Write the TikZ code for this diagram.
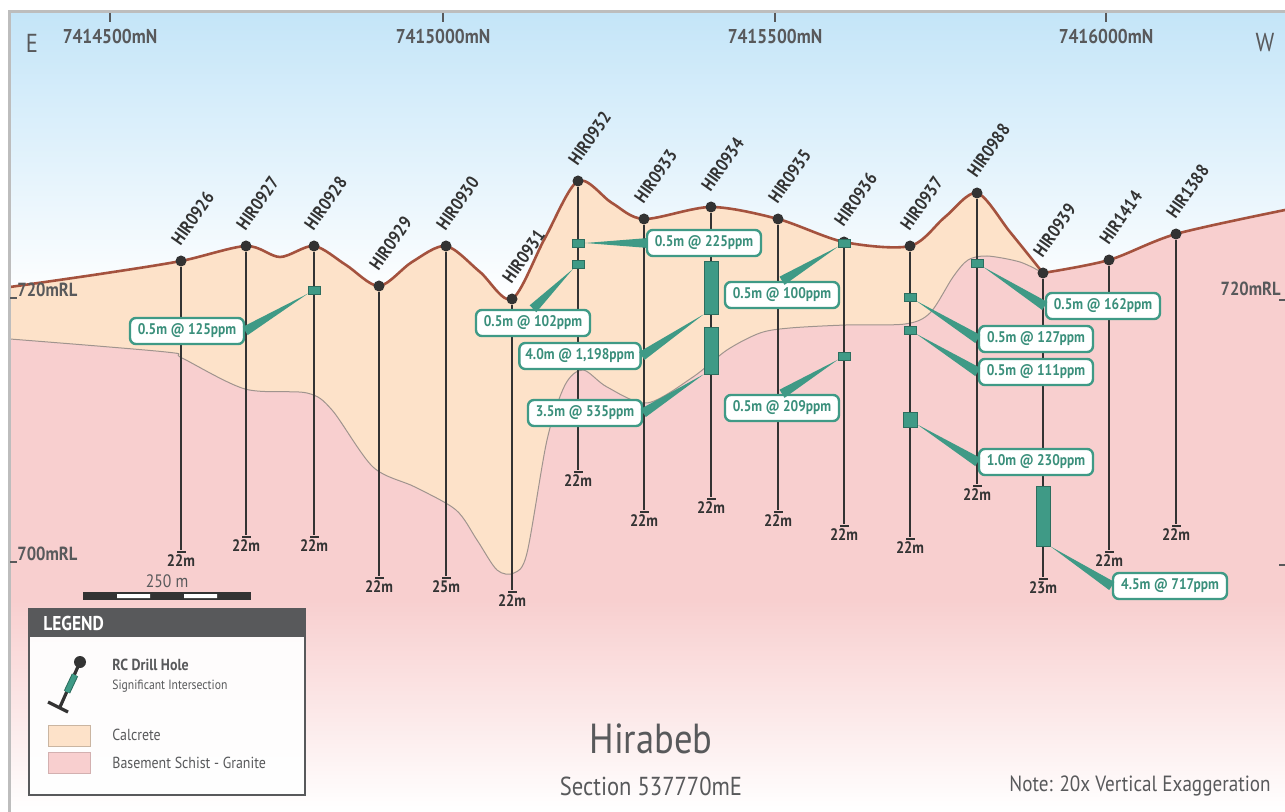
\documentclass[tikz,border=0pt]{standalone}
\usepackage{fontspec}
\setmainfont{PT Sans}[FakeStretch=0.87]
\usetikzlibrary{calc,positioning}
\definecolor{skyc}{HTML}{C4E5F8}
\definecolor{calcc}{HTML}{FDE2C9}
\definecolor{basec}{HTML}{F8CFCF}
\definecolor{surfc}{HTML}{A4523E}
\definecolor{bndc}{HTML}{A0948E}
\definecolor{tealc}{HTML}{3F9A86}
\definecolor{teald}{HTML}{2C6E5F}
\definecolor{tealt}{HTML}{3A8F7B}
\definecolor{holec}{HTML}{333333}
\definecolor{txtc}{HTML}{58595B}
\definecolor{framec}{HTML}{BDBDBD}
\def\surfL{plot[smooth,tension=0.5] coordinates {(10,287) (100,274) (181,261) (246,246) (280,257) (314,246) (346,265) (379,286) (412,262) (446,246) (480,272) (512,299) (545,238) (578,181) (612,203) (644,219) (711,207) (778,219) (844,242) (910,246) (945,217) (977,193) (1010,232) (1043,273)}}
\def\surfR{-- plot[smooth,tension=0.5] coordinates {(1043,273) (1109,260) (1176,234) (1285,210)}}
\def\bound{-- plot[smooth,tension=0.5] coordinates {(1043,273) (1020,262) (987,256) (968,260) (953,277) (930,313) (905,324) (846,325) (790,328) (760,333) (727,350) (693,377) (647,403) (607,387) (583,370) (565,385) (547,440) (527,553) (514,573) (497,570) (477,540) (456,510) (415,487) (373,467) (332,410) (307,393) (245,389) (182,358) (166,352) (10,339)}}
\def\sky{(10,13) rectangle (1285,300)}
% wedge from a tag box to an intersection, stopping #1 short of its centre
\newcommand\callptr[3][3.6pt]{\fill[tealc] ($(#2)!2.4pt!90:(#3)$) -- ($(#3)!#1!(#2)$) -- ($(#2)!2.4pt!-90:(#3)$) -- cycle;}

\begin{document}
\begin{tikzpicture}[x=0.5pt,y=-0.5pt,
  hole/.style={holec,line width=0.8pt},
  collar/.style={circle,fill=holec,minimum size=5.5pt,inner sep=0},
  foot/.style={fill=holec,minimum width=4.5pt,minimum height=1.4pt,inner sep=0},
  hit/.style={fill=tealc,draw=teald,line width=0.4pt,minimum width=6pt,minimum height=4pt,inner sep=0},
  bar/.style={hit,minimum width=7pt},
  holelab/.style={rotate=55,anchor=south west,inner sep=0,text=holec,font=\fontsize{9}{10}\selectfont\bfseries},
  depthlab/.style={inner sep=0,text=holec,font=\fontsize{8.3}{9}\selectfont\bfseries},
  tagbox/.style={draw=tealc,fill=white,line width=1.2pt,rounded corners=3pt,text=tealt,font=\fontsize{7.7}{9}\selectfont\bfseries,minimum width=57pt,minimum height=11.5pt,inner sep=3pt},
  axislab/.style={inner sep=0,text=txtc,font=\fontsize{10}{12}\selectfont\bfseries},
  rllab/.style={inner sep=0,text=txtc,font=\fontsize{9.5}{11}\selectfont\bfseries},
  legtext/.style={anchor=west,inner sep=0,text=txtc,font=\fontsize{8}{9}\selectfont}]
\useasboundingbox (0,0) rectangle (1285,812);
% sky and ground
\shade[top color=skyc,bottom color=white] \sky;
\fill[basec] \surfL \surfR -- (1285,812) -- (10,812) -- cycle;
\shade[top color=basec,bottom color=white] (10,600) rectangle (1285,812);
\fill[calcc] \surfL \bound -- cycle; % calcrete
\draw[bndc,line width=0.5pt] (1043,273) \bound;
\draw[surfc,line width=1.3pt] \surfL \surfR;
% frame
\draw[framec,line width=1.5pt] (9,812) -- (9,12) -- (1285,12);
\foreach \xx/\lab in {110/7414500mN,443/7415000mN,775/7415500mN,1106/7416000mN}{
  \draw[txtc,line width=0.6pt] (\xx,13) -- (\xx,22);
  \node[axislab] (n\xx) at (\xx,37) {\lab};
}
\node[text=txtc,font=\fontsize{13}{15}\selectfont] (E) at (32,43) {E};
\node[text=txtc,font=\fontsize{13}{15}\selectfont] (W) at (1265,43) {W};
% drill holes
\foreach \nm/\xx/\ya/\yb/\dep in {0926/181/261/552/22,0927/246/246/537/22,0928/314/246/537/22,
  0929/379/286/578/22,0930/446/246/578/25,0931/512/299/592/22,0932/578/181/472/22,
  0933/644/219/512/22,0934/711/207/499/22,0935/778/219/512/22,0936/844/242/526/22,
  0937/910/246/539/22,0988/977/193/486/22,0939/1043/273/579/23,1414/1109/260/552/22,
  1388/1176/234/526/22}{
  \node[foot] (b\nm) at (\xx,\yb) {};
  \node[collar] (h\nm) at (\xx,\ya) {};
  \draw[hole] (h\nm) -- (b\nm);
  \node[depthlab,below=0.2pt of b\nm] (d\nm) {\dep m};
  \node[holelab] (l\nm) at ($(h\nm)+(0,-14)$) {HIR\nm};
}
% intersections
\node[hit] (i928) at (314,290) {};
\node[hit] (i932a) at (578,243) {};
\node[hit] (i932b) at (578,264) {};
\node[bar,minimum height=26.5pt] (s934a) at (711,287.5) {};
\node[bar,minimum height=23.5pt] (s934b) at (711,350.5) {};
\node[hit] (i936a) at (844,243) {};
\node[hit] (i936b) at (844,356) {};
\node[hit] (i937a) at (910,297) {};
\node[hit] (i937b) at (910,330) {};
\node[bar,minimum height=7.5pt] (i937c) at (910,420) {};
\node[hit] (i988) at (977,263) {};
\node[bar,minimum height=30pt] (s939) at (1043,516) {};
% callouts
\node[tagbox] (c125) at (187,331) {0.5m @ 125ppm};
\node[tagbox] (c102) at (533,323) {0.5m @ 102ppm};
\node[tagbox] (c225) at (704,243) {0.5m @ 225ppm};
\node[tagbox] (c1198) at (580,356) {4.0m @ 1,198ppm};
\node[tagbox] (c535) at (585,413) {3.5m @ 535ppm};
\node[tagbox] (c100) at (782,295) {0.5m @ 100ppm};
\node[tagbox] (c209) at (782,408) {0.5m @ 209ppm};
\node[tagbox] (c162) at (1103,306) {0.5m @ 162ppm};
\node[tagbox] (c127) at (1036,339) {0.5m @ 127ppm};
\node[tagbox] (c111) at (1036,372) {0.5m @ 111ppm};
\node[tagbox] (c230) at (1036,462) {1.0m @ 230ppm};
\node[tagbox] (c717) at (1170,586) {4.5m @ 717ppm};
\callptr{c125.east}{i928}
\callptr{c102.north}{i932b}
\callptr{c225.west}{i932a}
\callptr[0pt]{c1198.east}{s934a.south west}
\callptr[0pt]{c535.east}{s934b.south west}
\callptr{c100.north}{i936a}
\callptr{c209.north}{i936b}
\callptr{c162.west}{i988}
\callptr{c127.west}{i937a}
\callptr{c111.west}{i937b}
\callptr[4.2pt]{c230.west}{i937c}
\callptr[0pt]{c717.west}{s939.south east}
% RL marks
\draw[txtc,line width=0.6pt] (10,298) -- (17,298) (10,562) -- (17,562) (1279,300) -- (1285,300) (1279,565) -- (1285,565);
\node[rllab,anchor=west] (rl720) at (17,290) {720mRL};
\node[rllab,anchor=west] (rl700) at (17,554) {700mRL};
\node[rllab,anchor=east] (rr720) at (1281,289) {720mRL};
% scale bar
\node[text=txtc,font=\fontsize{9}{10}\selectfont,inner sep=0] (sb) at (167,581) {250 m};
\fill[holec] (83,592) rectangle (251,600);
\fill[white] (117,594) rectangle (150,598) (184,594) rectangle (217,598);
% legend
\fill[white,opacity=0.92] (29,609) rectangle (305,795);
\fill[txtc] (29,609) rectangle (305,637);
\draw[txtc,line width=0.8pt] (29,609) rectangle (305,795);
\node[anchor=west,inner sep=0,text=white,font=\fontsize{10}{11}\selectfont\bfseries] (leg) at (43,623) {LEGEND};
\draw[holec,line width=1.6pt] (80,662) -- (60,707);
\draw[holec,line width=1.6pt] (48,702) -- (68,712);
\draw[teald,line width=3.4pt] (75,675) -- (67,692);
\draw[tealc,line width=2.4pt] (75,675) -- (67,692);
\fill[holec] (80,662) circle[radius=6];
\node[legtext,font=\fontsize{8}{10}\selectfont\bfseries] (lrc) at (112,665) {RC Drill Hole};
\node[legtext,font=\fontsize{6.7}{8}\selectfont] (lsi) at (112,686) {Significant Intersection};
\fill[calcc,draw=calcc!80!black,line width=0.4pt] (48,725) rectangle (90,746);
\fill[basec,draw=basec!85!black,line width=0.4pt] (48,752) rectangle (90,773);
\node[legtext] (lca) at (112,735) {Calcrete};
\node[legtext] (lba) at (112,763) {Basement Schist - Granite};
% titles
\node[text=txtc,font=\fontsize{21}{24}\selectfont] (ttl) at (651,739) {Hirabeb};
\node[text=txtc,font=\fontsize{13}{15}\selectfont] (sec) at (651,786) {Section 537770mE};
\node[text=txtc,font=\fontsize{11}{13}\selectfont] (note) at (1140,786) {Note: 20x Vertical Exaggeration};
\end{tikzpicture}
\end{document}
